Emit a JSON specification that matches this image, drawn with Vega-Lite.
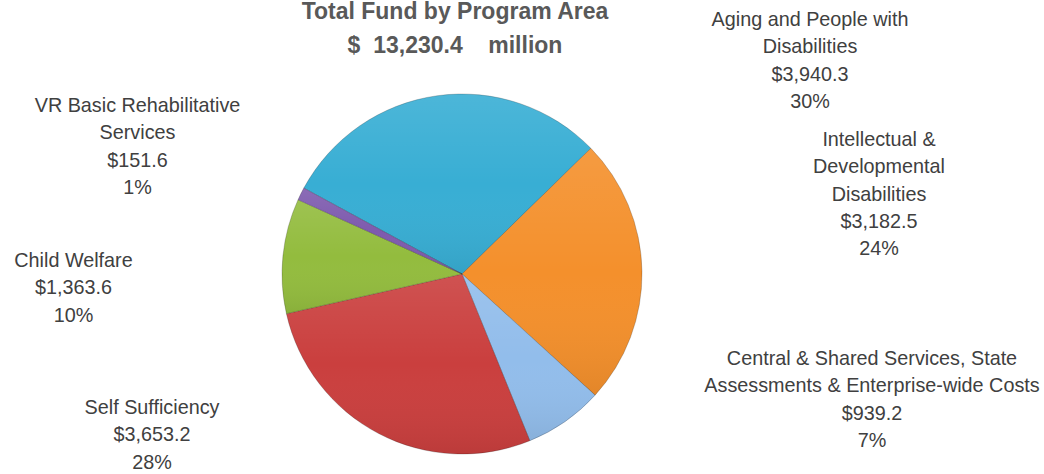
{
  "$schema": "https://vega.github.io/schema/vega-lite/v6.json",
  "width": 924,
  "height": 400,
  "autosize": {"type": "none"},
  "padding": {"left": 0, "top": 74, "right": 120, "bottom": 0},
  "background": "#ffffff",
  "config": {"view": {"stroke": null}},
  "title": {
    "text": ["Total Fund by Program Area", "$\u00a0\u00a013,230.4\u00a0\u00a0\u00a0\u00a0million"],
    "font": "Liberation Sans",
    "fontWeight": "bold",
    "fontSize": 23,
    "lineHeight": 34,
    "color": "#595959",
    "anchor": "middle",
    "dx": -7,
    "offset": -48
  },
  "data": {
    "values": [
      {"name": "Aging and People with\nDisabilities", "key": "Aging", "value": 3940.3},
      {"name": "Intellectual &\nDevelopmental\nDisabilities", "key": "IDD", "value": 3182.5},
      {"name": "Central & Shared Services, State\nAssessments & Enterprise-wide Costs", "key": "Central", "value": 939.2},
      {"name": "Self Sufficiency", "key": "Self", "value": 3653.2},
      {"name": "Child Welfare", "key": "Child", "value": 1363.6},
      {"name": "VR Basic Rehabilitative\nServices", "key": "VR", "value": 151.6}
    ]
  },
  "transform": [
    {"window": [{"op": "row_number", "as": "i"}]},
    {"joinaggregate": [{"op": "sum", "field": "value", "as": "total"}]},
    {"calculate": "datum.name + '\\n$' + format(datum.value, ',.1f') + '\\n' + format(datum.value / datum.total, '.0%')", "as": "label"}
  ],
  "layer": [
    {
      "mark": {"type": "arc", "outerRadius": 180, "stroke": "#000000", "strokeOpacity": 0.2, "strokeWidth": 1},
      "encoding": {
        "theta": {"field": "value", "type": "quantitative", "stack": true, "scale": {"range": [-1.0734, 5.2098]}},
        "order": {"field": "i", "type": "quantitative"},
        "color": {
          "field": "key", "type": "nominal", "legend": null,
          "scale": {
            "domain": ["Aging", "IDD", "Central", "Self", "Child", "VR"],
            "range": ["#38AED4", "#F4902C", "#92BDEB", "#CA3F3E", "#93BC3E", "#7E5BAE"]
          }
        }
      }
    },
    {
      "mark": {
        "type": "arc", "outerRadius": 180, "strokeWidth": 0,
        "fill": {
          "gradient": "linear", "x1": 0, "y1": 0, "x2": 0, "y2": 1,
          "stops": [
            {"offset": 0, "color": "rgba(255,255,255,0.10)"},
            {"offset": 0.5, "color": "rgba(255,255,255,0)"},
            {"offset": 1, "color": "rgba(0,0,0,0.07)"}
          ]
        }
      },
      "encoding": {
        "theta": {"field": "value", "type": "quantitative", "stack": true, "scale": {"range": [-1.0734, 5.2098]}},
        "order": {"field": "i", "type": "quantitative"}
      }
    },
    {
      "transform": [{"filter": "datum.key === 'Aging'"}],
      "mark": {"type": "text", "font": "Liberation Sans", "fontSize": 19.8, "lineHeight": 27.3, "lineBreak": "\n", "color": "#404040", "align": "center", "baseline": "middle", "dx": 348, "dy": -254},
      "encoding": {"text": {"field": "label"}}
    },
    {
      "transform": [{"filter": "datum.key === 'IDD'"}],
      "mark": {"type": "text", "font": "Liberation Sans", "fontSize": 19.8, "lineHeight": 27.3, "lineBreak": "\n", "color": "#404040", "align": "center", "baseline": "middle", "dx": 417, "dy": -134},
      "encoding": {"text": {"field": "label"}}
    },
    {
      "transform": [{"filter": "datum.key === 'Central'"}],
      "mark": {"type": "text", "font": "Liberation Sans", "fontSize": 19.8, "lineHeight": 27.3, "lineBreak": "\n", "color": "#404040", "align": "center", "baseline": "middle", "dx": 410, "dy": 85},
      "encoding": {"text": {"field": "label"}}
    },
    {
      "transform": [{"filter": "datum.key === 'Self'"}],
      "mark": {"type": "text", "font": "Liberation Sans", "fontSize": 19.8, "lineHeight": 27.3, "lineBreak": "\n", "color": "#404040", "align": "center", "baseline": "middle", "dx": -310, "dy": 134},
      "encoding": {"text": {"field": "label"}}
    },
    {
      "transform": [{"filter": "datum.key === 'Child'"}],
      "mark": {"type": "text", "font": "Liberation Sans", "fontSize": 19.8, "lineHeight": 27.3, "lineBreak": "\n", "color": "#404040", "align": "center", "baseline": "middle", "dx": -388.5, "dy": -13},
      "encoding": {"text": {"field": "label"}}
    },
    {
      "transform": [{"filter": "datum.key === 'VR'"}],
      "mark": {"type": "text", "font": "Liberation Sans", "fontSize": 19.8, "lineHeight": 27.3, "lineBreak": "\n", "color": "#404040", "align": "center", "baseline": "middle", "dx": -324.5, "dy": -168},
      "encoding": {"text": {"field": "label"}}
    }
  ]
}
